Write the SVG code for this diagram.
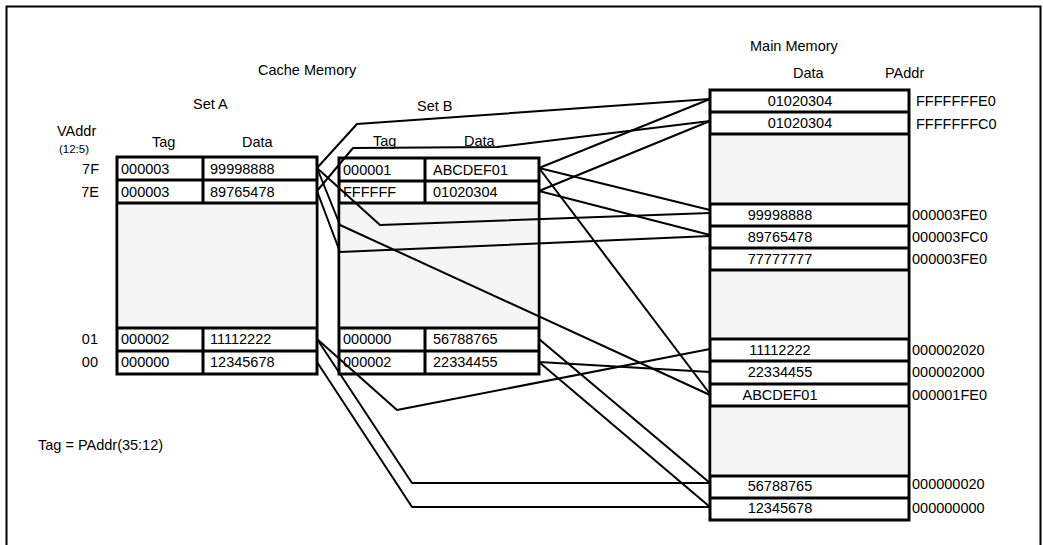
<svg xmlns="http://www.w3.org/2000/svg" width="1043" height="545" viewBox="0 0 1043 545">
<style>
  text { font-family: "Liberation Sans", Arial, Helvetica, sans-serif; font-size: 14.5px; fill: #000; }
  .small { font-size: 11.5px; }
  .mid { text-anchor: middle; }
  .end { text-anchor: end; }
  .frame { fill: #fff; stroke: #000; stroke-width: 3; }
  .shade { fill: #f5f5f5; stroke: none; }
  .rule { stroke: #000; stroke-width: 3; fill: none; }
  .wire { fill: none; stroke: #000; stroke-width: 2; stroke-linejoin: round; }
</style>
<rect width="1043" height="545" fill="#fff"/>
<path d="M6.5 545 V6.5 H1040.5 V545" fill="none" stroke="#000" stroke-width="2"/>

<!-- headings -->
<text x="258" y="75">Cache Memory</text>
<text x="750" y="51">Main Memory</text>
<text x="793" y="78">Data</text>
<text x="885" y="78">PAddr</text>
<text x="57" y="136">VAddr</text>
<text class="small" x="59" y="153">(12:5)</text>
<text x="193" y="109">Set A</text>
<text x="417" y="111">Set B</text>
<text x="152" y="147">Tag</text>
<text x="242" y="147">Data</text>
<text x="373" y="146">Tag</text>
<text x="464" y="146">Data</text>
<text x="38" y="450">Tag = PAddr(35:12)</text>

<!-- set index labels -->
<text class="end" x="99" y="174">7F</text>
<text class="end" x="99" y="197">7E</text>
<text class="end" x="98" y="344">01</text>
<text class="end" x="98" y="367">00</text>

<!-- Set A -->
<g id="setA">
  <rect class="frame" x="117" y="157" width="200" height="217"/>
  <rect class="shade" x="118.5" y="203" width="197" height="125"/>
  <path class="rule" d="M117 180 H317 M117 203 H317 M117 328 H317 M117 351 H317 M203 157 V203 M203 328 V374"/>
  <text x="121" y="174">000003</text><text x="210" y="174">99998888</text>
  <text x="121" y="197">000003</text><text x="210" y="197">89765478</text>
  <text x="121" y="344">000002</text><text x="210" y="344">11112222</text>
  <text x="121" y="367">000000</text><text x="210" y="367">12345678</text>
</g>

<!-- Set B -->
<g id="setB">
  <rect class="frame" x="339" y="158" width="200" height="216"/>
  <rect class="shade" x="340.5" y="203" width="197" height="125"/>
  <path class="rule" d="M339 181 H539 M339 203 H539 M339 328 H539 M339 351 H539 M425 158 V203 M425 328 V374"/>
  <text x="343" y="175">000001</text><text x="433" y="175">ABCDEF01</text>
  <text x="343" y="197">FFFFFF</text><text x="433" y="197">01020304</text>
  <text x="343" y="344">000000</text><text x="433" y="344">56788765</text>
  <text x="343" y="367">000002</text><text x="433" y="367">22334455</text>
</g>

<!-- Main memory -->
<g id="mainMemory">
  <rect class="frame" x="710" y="90" width="199" height="430"/>
  <rect class="shade" x="711.5" y="134" width="196" height="70"/>
  <rect class="shade" x="711.5" y="270" width="196" height="69"/>
  <rect class="shade" x="711.5" y="406" width="196" height="70"/>
  <path class="rule" d="M710 112 H909 M710 134 H909 M710 204 H909 M710 226 H909 M710 248 H909 M710 270 H909 M710 339 H909 M710 361 H909 M710 384 H909 M710 406 H909 M710 476 H909 M710 498 H909"/>
  <text class="mid" x="800" y="106">01020304</text>
  <text class="mid" x="800" y="128">01020304</text>
  <text class="mid" x="780" y="220">99998888</text>
  <text class="mid" x="780" y="242">89765478</text>
  <text class="mid" x="780" y="264">77777777</text>
  <text class="mid" x="780" y="355">11112222</text>
  <text class="mid" x="780" y="377">22334455</text>
  <text class="mid" x="780" y="400">ABCDEF01</text>
  <text class="mid" x="780" y="491">56788765</text>
  <text class="mid" x="780" y="513">12345678</text>
</g>

<!-- physical addresses -->
<g id="paddr">
  <text x="916" y="106">FFFFFFFE0</text>
  <text x="916" y="129">FFFFFFFC0</text>
  <text x="912" y="220">000003FE0</text>
  <text x="912" y="242">000003FC0</text>
  <text x="912" y="264">000003FE0</text>
  <text x="912" y="355">000002020</text>
  <text x="912" y="377">000002000</text>
  <text x="912" y="400">000001FE0</text>
  <text x="912" y="489">000000020</text>
  <text x="912" y="513">000000000</text>
</g>

<!-- connectors: each cache line to the main-memory lines sharing its index -->
<g id="connectors" class="wire">
  <polyline points="317,168 357,124 710,99"/>
  <polyline points="317,191 353,148 497,147 710,121"/>
  <polyline points="317,168 380,225 710,213"/>
  <polyline points="317,191 340,252 710,236"/>
  <polyline points="317,168 340,225 710,395"/>
  <polyline points="539,168 710,99"/>
  <polyline points="539,191 710,121"/>
  <polyline points="539,168 710,210"/>
  <polyline points="539,191 710,235"/>
  <polyline points="539,168 710,394"/>
  <polyline points="317,339 397,410 710,349"/>
  <polyline points="317,339 412,483 710,483"/>
  <polyline points="317,362 412,507 710,507"/>
  <polyline points="539,339 710,483"/>
  <polyline points="539,362 710,507"/>
  <polyline points="539,362 710,372"/>
</g>
</svg>
